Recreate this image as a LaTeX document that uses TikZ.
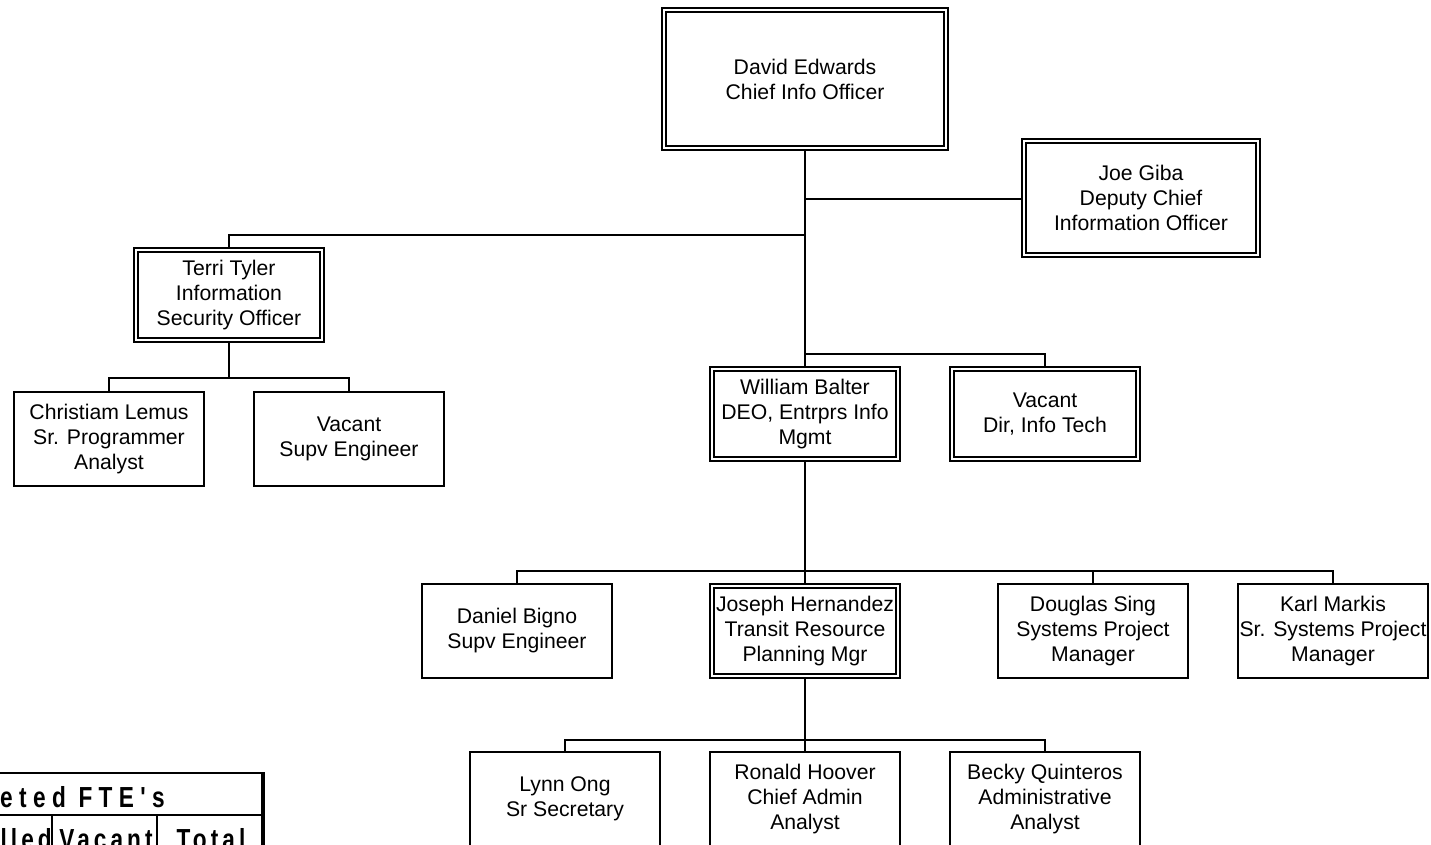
\documentclass[tikz,border=0pt]{standalone}
\usepackage{fontspec}
\setmainfont{Liberation Sans}
\newfontfamily\tblfont[FakeStretch=0.78,LetterSpace=14]{Liberation Sans}
\newfontfamily\tblhead[FakeStretch=0.78,LetterSpace=22]{Liberation Sans}
\begin{document}
\begin{tikzpicture}[x=1pt,y=-1pt,
  every node/.style={font=\fontsize{21.2}{25}\selectfont, align=center, inner sep=0pt},
  sbox/.style={draw, line width=2pt, minimum width=190pt, minimum height=94pt, outer sep=0pt},
  dbox/.style={draw, double, double distance=2pt, line width=2pt, minimum width=186pt, minimum height=90pt, outer sep=3pt},
  conn/.style={line width=2pt},
  tblline/.style={line width=2pt},
  tbltext/.style={font=\tblfont\bfseries\fontsize{29}{30}\selectfont},
  tblhtext/.style={font=\tblhead\bfseries\fontsize{29}{30}\selectfont}]
\useasboundingbox (0,0) rectangle (1431,845);

% boxes
\node[dbox, minimum width=282pt, minimum height=138pt] (ceo) at (805,79) {David Edwards\\Chief Info Officer};
\node[dbox, minimum width=234pt, minimum height=114pt] (joe) at (1141,198) {Joe Giba\\Deputy Chief\\Information Officer};
\node[dbox] (terri) at (229,295) {Terri Tyler\\Information\\Security Officer};
\node[sbox] (chris) at (109,439) {Christiam Lemus\\Sr. Programmer\\Analyst};
\node[sbox] (vac1) at (349,439) {Vacant\\Supv Engineer};
\node[dbox] (will) at (805,414) {William Balter\\DEO, Entrprs Info\\Mgmt};
\node[dbox] (vac2) at (1045,414) {Vacant\\Dir, Info Tech};
\node[sbox] (dan) at (517,631) {Daniel Bigno\\Supv Engineer};
\node[dbox] (jos) at (805,631) {Joseph Hernandez\\Transit Resource\\Planning Mgr};
\node[sbox] (doug) at (1093,631) {Douglas Sing\\Systems Project\\Manager};
\node[sbox] (karl) at (1333,631) {Karl Markis\\Sr. Systems Project\\Manager};
\node[sbox] (lynn) at (565,799) {Lynn Ong\\Sr Secretary};
\node[sbox] (ron) at (805,799) {Ronald Hoover\\Chief Admin\\Analyst};
\node[sbox] (becky) at (1045,799) {Becky Quinteros\\Administrative\\Analyst};

% bus points
\coordinate (joeb) at (805,199);
\coordinate (terrib) at (805,235);
\coordinate (vacb) at (805,354);
\coordinate (tbus) at (229,378);
\coordinate (wbus) at (805,571);
\coordinate (jbus) at (805,740);

% connectors
\draw[conn] (ceo.south) -- (will.north);
\draw[conn] (joeb) -- (joeb -| joe.west);
\draw[conn] (terrib) -| (terri.north);
\draw[conn] (vacb) -| (vac2.north);
\draw[conn] (terri.south) -- (tbus);
\draw[conn] (chris.north) |- (tbus) -| (vac1.north);
\draw[conn] (will.south) -- (jos.north);
\draw[conn] (dan.north) |- (wbus) -| (karl.north);
\draw[conn] (doug.north) -- (doug.north |- wbus);
\draw[conn] (jos.south) -- (ron.north);
\draw[conn] (lynn.north) |- (jbus) -| (becky.north);

% FTE table (cut by the picture's left and bottom edges)
\draw[tblline] (0,773) -- (263,773);
\draw[tblline] (0,815) -- (263,815);
\draw[tblline] (52,815) -- (52,846);
\draw[tblline] (157,815) -- (157,846);
\draw[line width=3.5pt] (263,772) -- (263,846);
\node[tblhtext, anchor=base west] (thead) at (0,807) {eted FTE's};
\node[tbltext, anchor=base east] (tfill) at (52,849) {lled};
\node[tbltext, anchor=base] (tvac) at (106,849) {Vacant};
\node[tbltext, anchor=base] (ttot) at (211,849) {Total};
\end{tikzpicture}
\end{document}
